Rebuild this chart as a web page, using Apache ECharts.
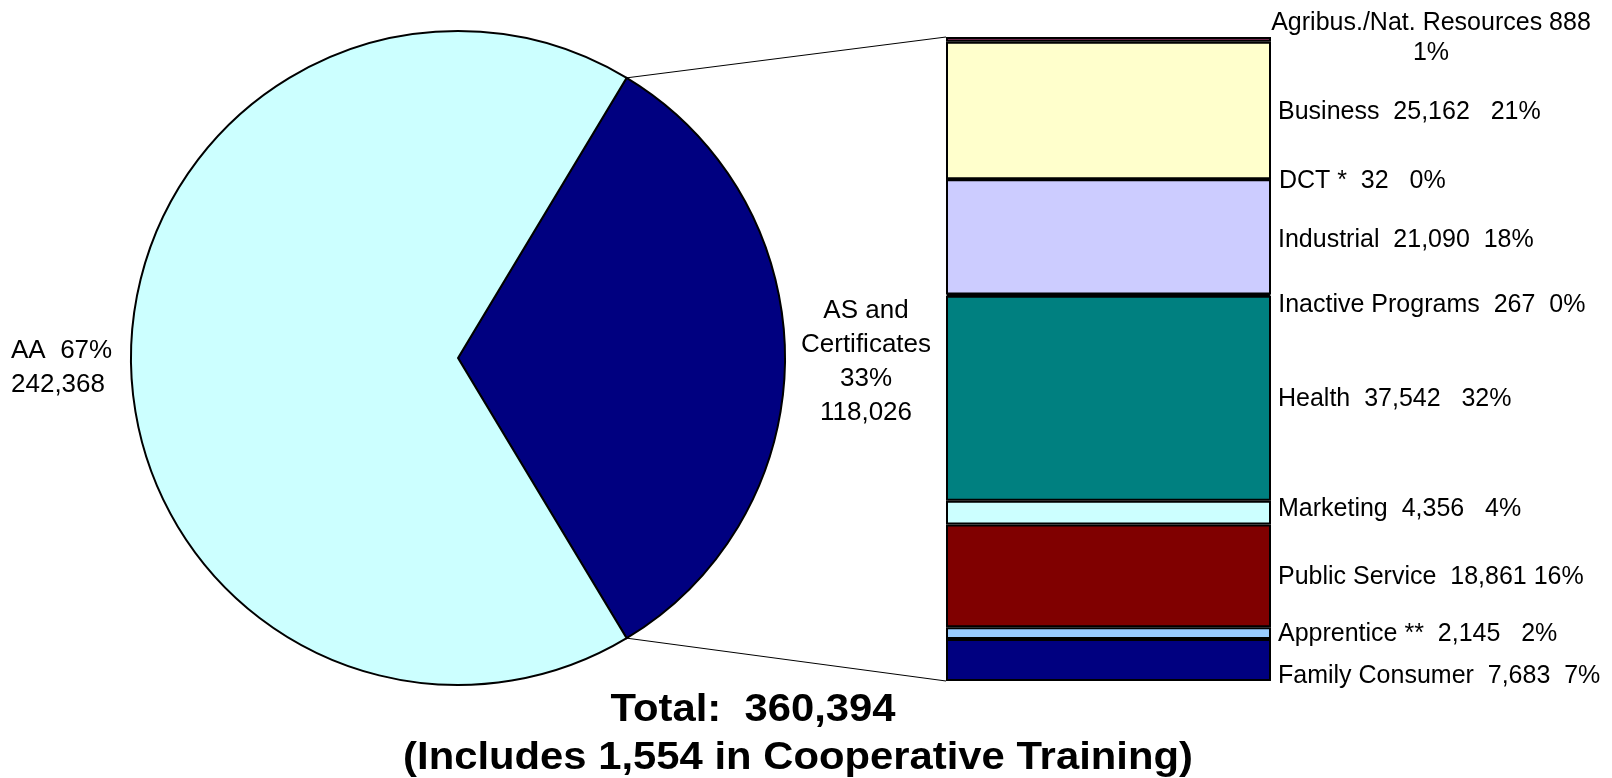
<!DOCTYPE html>
<html>
<head>
<meta charset="utf-8">
<script src="https://cdn.jsdelivr.net/npm/echarts@6/dist/echarts.min.js"></script>
<style>
  html, body { margin: 0; padding: 0; background: #fff; }
  #chart { width: 1612px; height: 778px; }
</style>
</head>
<body>
<div id="chart"></div>
<script>
// pie: AA vs AS and Certificates
const pieNames = ['AS and Certificates', 'AA'];
const pieValues = [118026, 242368];
const pieColors = ['#000080', '#CCFFFF'];
const coopTraining = 1554;

// breakdown of AS and Certificates (top to bottom)
const groups = ['Agribus./Nat. Resources', 'Business', 'DCT *', 'Industrial', 'Inactive Programs',
  'Health', 'Marketing', 'Public Service', 'Apprentice **', 'Family Consumer'];
const groupValues = [888, 25162, 32, 21090, 267, 37542, 4356, 18861, 2145, 7683];
const groupColors = ['#993366', '#FFFFCC', '#FFFFFF', '#CCCCFF', '#FF8080',
  '#008080', '#CCFFFF', '#800000', '#99CCFF', '#000080'];
// spacing before the percentage, as printed
const pctGap = ['\n', '   ', '   ', '  ', '  ', '   ', '   ', ' ', '   ', '  '];
// small nudges so labels sit where they are in the picture
const labelOffsets = [[0, -1], [0, 2], [0, 2], [0, 3], [0, 10], [0, 1], [0, -3], [0, 1], [0, 1], [0, 16]];

const FONT = '"Liberation Sans", Arial, sans-serif';
const pieCenter = [458, 358];
const pieRadius = 327;
const gridLeft = 946, gridTop = 37, gridW = 325, gridH = 644;

let fmt = function (v) { return v.toLocaleString('en-US'); };
let asTotal = groupValues.reduce(function (a, b) { return a + b; }, 0);
let grand = pieValues[0] + pieValues[1];
let halfAngle = pieValues[0] / grand * 180;

let chart = echarts.init(document.getElementById('chart'));

let barSeries = [];
for (let i = 0; i < groups.length; i++) {
    let pct = Math.round(groupValues[i] / asTotal * 100) + '%';
    let txt = groups[i] + (i === 0 ? ' ' : '  ') + fmt(groupValues[i]) + pctGap[i] + pct;
    barSeries.push({
        name: groups[i],
        type: 'bar',
        stack: 'as',
        barWidth: '100%',
        data: [groupValues[i]],
        itemStyle: { color: groupColors[i], borderColor: '#000', borderWidth: 2 },
        label: {
            show: true,
            position: 'right',
            distance: 7,
            formatter: txt,
            color: '#000',
            fontFamily: FONT,
            fontSize: 25,
            lineHeight: 30,
            align: i === 0 ? 'center' : 'left',
            offset: i === 0 ? [153 + labelOffsets[i][0], labelOffsets[i][1]] : labelOffsets[i]
        }
    });
}

let pieLabelPos = [
    { x: 866, y: 362, align: 'center' },
    { x: 11, y: 368, align: 'left' }
];

const option = {
    animation: false,
    grid: { left: gridLeft, top: gridTop, width: gridW, height: gridH },
    xAxis: { type: 'category', data: ['AS'], show: false },
    yAxis: { type: 'value', inverse: true, min: 0, max: asTotal, show: false },
    series: [
        {
            name: 'Degrees',
            type: 'pie',
            center: pieCenter,
            radius: pieRadius,
            startAngle: halfAngle,
            clockwise: true,
            data: pieNames.map(function (n, i) {
                return { name: n, value: pieValues[i], itemStyle: { color: pieColors[i] } };
            }),
            itemStyle: { borderColor: '#000', borderWidth: 2 },
            label: {
                show: true,
                position: 'outside',
                overflow: 'none',
                color: '#000',
                fontFamily: FONT,
                fontSize: 26,
                lineHeight: 34,
                formatter: function (p) {
                    let pct = Math.round(p.value / grand * 100) + '%';
                    if (p.dataIndex === 0) return 'AS and\nCertificates\n' + pct + '\n' + fmt(p.value);
                    return 'AA  ' + pct + '\n' + fmt(p.value);
                }
            },
            labelLine: { show: false },
            labelLayout: function (params) {
                let p = pieLabelPos[params.dataIndex];
                return { x: p.x, y: p.y, align: p.align, verticalAlign: 'middle' };
            }
        }
    ].concat(barSeries),
    graphic: []
};
chart.setOption(option);

// connector lines from pie slice edges to the stacked bar
let a = halfAngle * Math.PI / 180;
let topPt = [pieCenter[0] + pieRadius * Math.cos(a), pieCenter[1] - pieRadius * Math.sin(a)];
let botPt = [pieCenter[0] + pieRadius * Math.cos(a), pieCenter[1] + pieRadius * Math.sin(a)];
let barTop = chart.convertToPixel({ yAxisIndex: 0 }, 0);
let barBot = chart.convertToPixel({ yAxisIndex: 0 }, asTotal);
chart.setOption({
    graphic: [
        { type: 'line', shape: { x1: topPt[0], y1: topPt[1], x2: gridLeft, y2: barTop }, style: { stroke: '#000', lineWidth: 1 } },
        { type: 'line', shape: { x1: botPt[0], y1: botPt[1], x2: gridLeft, y2: barBot }, style: { stroke: '#000', lineWidth: 1 } },
        { type: 'text', x: 753, y: 711, scaleX: 1.1, style: { text: 'Total:  ' + fmt(grand), font: 'bold 38px ' + FONT, fill: '#000', textAlign: 'center', textVerticalAlign: 'middle' } },
        { type: 'text', x: 798, y: 759, scaleX: 1.1, style: { text: '(Includes ' + fmt(coopTraining) + ' in Cooperative Training)', font: 'bold 38px ' + FONT, fill: '#000', textAlign: 'center', textVerticalAlign: 'middle' } }
    ]
});
window.addEventListener('resize', function () {
    chart.resize();
});
</script>
</body>
</html>
